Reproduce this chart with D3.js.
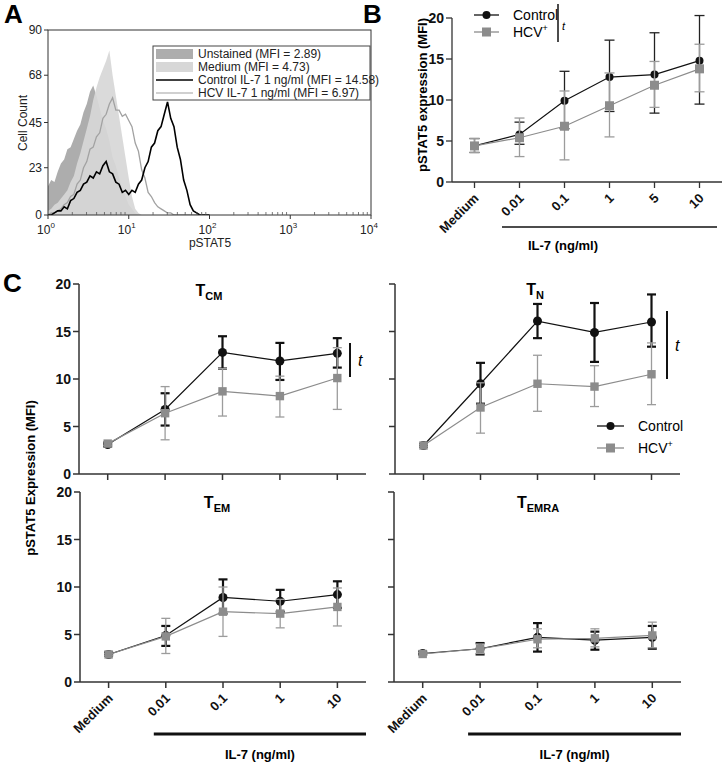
<!DOCTYPE html>
<html>
<head>
<meta charset="utf-8">
<script src="https://cdn.jsdelivr.net/npm/d3@7"></script>
<style>
body { margin: 0; background: #fff; }
svg { font-family: "Liberation Sans", Arial, sans-serif; }
</style>
</head>
<body>
<svg id="fig" width="724" height="762"></svg>
<script>
'use strict';

// ---- panel A: histograms, counts per bin (bins every 0.04 decade from 10^0)
var binLog = d3.range(0, 2.001, 0.04);
var unstainedHist = [14, 17, 16, 21, 25, 27, 32, 33, 37, 41, 44, 50, 54, 60, 63, 58, 52, 46, 42, 36, 28, 24, 18, 13, 9, 5, 3, 1, 0, 0, 0, 0, 0, 0, 0, 0, 0, 0, 0, 0, 0, 0, 0, 0, 0, 0, 0, 0, 0, 0, 0];
var mediumHist = [2, 3, 5, 6, 8, 10, 12, 16, 19, 25, 30, 36, 42, 48, 56, 62, 67, 71, 75, 80, 68, 58, 48, 38, 28, 18, 9, 3, 1, 0, 0, 0, 0, 0, 0, 0, 0, 0, 0, 0, 0, 0, 0, 0, 0, 0, 0, 0, 0, 0, 0];
var controlHist = [0, 0, 1, 2, 2, 4, 3, 7, 8, 11, 12, 15, 16, 19, 18, 21, 20, 24, 26, 21, 20, 16, 15, 11, 12, 10, 12, 11, 15, 17, 23, 26, 33, 35, 41, 43, 49, 55, 47, 43, 33, 27, 17, 12, 5, 2, 1, 0, 0, 0, 0];
var hcvHist = [0, 1, 1, 2, 3, 5, 6, 9, 10, 15, 17, 23, 26, 32, 33, 38, 40, 47, 49, 54, 57, 51, 51, 48, 49, 46, 43, 35, 31, 22, 18, 11, 9, 6, 4, 3, 2, 1, 1, 0, 0, 0, 0, 0, 0, 0, 0, 0, 0, 0, 0];
var histYTicks = [0, 23, 45, 68, 90];
var histXTicks = [0, 1, 2, 3, 4];
var histLegend = ['Unstained (MFI = 2.89)', 'Medium (MFI = 4.73)', 'Control IL-7 1 ng/ml (MFI = 14.58)', 'HCV IL-7 1 ng/ml (MFI = 6.97)'];

// ---- panel B
var doseB = ['Medium', '0.01', '0.1', '1', '5', '10'];
var ctrlB = [4.4, 5.8, 9.9, 12.8, 13.1, 14.8];
var ctrlBLo = [3.6, 4.6, 6.5, 8.6, 8.4, 9.5];
var ctrlBHi = [5.3, 7.3, 13.5, 17.3, 18.2, 20.3];
var hcvB = [4.4, 5.4, 6.8, 9.3, 11.8, 13.8];
var hcvBLo = [3.6, 3.1, 2.7, 5.5, 9.1, 11.0];
var hcvBHi = [5.3, 7.8, 11.1, 13.3, 14.7, 16.8];
var yTicksB = [0, 5, 10, 15, 20];

// ---- panel C
var doseC = ['Medium', '0.01', '0.1', '1', '10'];
var yTicksC = [0, 5, 10, 15, 20];

var tcmCtrl = [3.1, 6.8, 12.8, 11.9, 12.7];
var tcmCtrlLo = [2.9, 5.1, 11.1, 9.9, 11.2];
var tcmCtrlHi = [3.3, 8.5, 14.5, 13.8, 14.3];
var tcmHcv = [3.2, 6.4, 8.7, 8.2, 10.1];
var tcmHcvLo = [3.0, 3.6, 6.1, 6.0, 6.8];
var tcmHcvHi = [3.4, 9.2, 11.1, 10.3, 13.3];

var tnCtrl = [3.0, 9.5, 16.1, 14.9, 16.0];
var tnCtrlLo = [2.9, 7.4, 14.3, 11.8, 13.4];
var tnCtrlHi = [3.1, 11.7, 17.9, 18.0, 18.9];
var tnHcv = [3.0, 7.0, 9.5, 9.2, 10.5];
var tnHcvLo = [2.9, 4.3, 6.6, 7.1, 7.3];
var tnHcvHi = [3.1, 9.6, 12.5, 11.4, 13.8];

var temCtrl = [2.9, 4.9, 8.9, 8.5, 9.2];
var temCtrlLo = [2.8, 3.8, 7.2, 7.4, 7.8];
var temCtrlHi = [3.1, 5.9, 10.8, 9.7, 10.6];
var temHcv = [2.9, 4.8, 7.4, 7.2, 7.9];
var temHcvLo = [2.8, 3.0, 4.8, 5.7, 5.9];
var temHcvHi = [3.0, 6.7, 10.0, 8.7, 9.9];

var temraCtrl = [3.0, 3.5, 4.7, 4.4, 4.7];
var temraCtrlLo = [2.9, 2.9, 3.2, 3.4, 3.5];
var temraCtrlHi = [3.2, 4.1, 6.2, 5.3, 5.9];
var temraHcv = [2.95, 3.5, 4.5, 4.6, 4.9];
var temraHcvLo = [2.8, 3.0, 3.6, 3.7, 3.6];
var temraHcvHi = [3.1, 4.0, 5.6, 5.6, 6.3];

var BLACK = '#111';
var GRAY = '#8c8c8c';
var GRAY_ERR = '#9c9c9c';

var svg = d3.select('#fig');

// panel letters
[['A', 4, 23], ['B', 363, 23], ['C', 3, 292]].forEach(function(d) {
    svg.append('text').attr('x', d[1]).attr('y', d[2])
        .style('font-size', '26px').style('font-weight', 'bold').text(d[0]);
});

// =================== A ===================
var xA = d3.scaleLog().domain([1, 1e4]).range([48, 371]);
var yA = d3.scaleLinear().domain([0, 90]).range([215, 30]);
var gA = svg.append('g');

gA.append('clipPath').attr('id', 'clipA')
    .append('rect').attr('x', 48).attr('y', 30).attr('width', 323).attr('height', 185);

function histRows(arr) {
    return arr.map(function(v, i) { return { x: Math.pow(10, binLog[i]), y: v }; });
}
var areaA = d3.area()
    .x(function(d) { return xA(d.x); }).y0(yA(0)).y1(function(d) { return yA(d.y); });
var lineA = d3.line()
    .x(function(d) { return xA(d.x); }).y(function(d) { return yA(d.y); });

var plotA = gA.append('g').attr('clip-path', 'url(#clipA)');
plotA.append('path').datum(histRows(unstainedHist)).attr('d', areaA).attr('fill', '#adadad');
plotA.append('path').datum(histRows(mediumHist)).attr('d', areaA).attr('fill', '#d7d7d7').attr('fill-opacity', 0.92);
plotA.append('path').datum(histRows(hcvHist)).attr('d', lineA)
    .attr('fill', 'none').attr('stroke', '#a2a2a2').attr('stroke-width', 1.3);
plotA.append('path').datum(histRows(controlHist)).attr('d', lineA)
    .attr('fill', 'none').attr('stroke', '#000').attr('stroke-width', 1.6);

// frame
gA.append('rect').attr('x', 48).attr('y', 30).attr('width', 323).attr('height', 185)
    .attr('fill', 'none').attr('stroke', '#333').attr('stroke-width', 1);

// y ticks
histYTicks.forEach(function(t) {
    gA.append('line').attr('x1', 44).attr('x2', 48).attr('y1', yA(t)).attr('y2', yA(t)).attr('stroke', '#333');
    gA.append('text').attr('x', 42).attr('y', yA(t) + 4).attr('text-anchor', 'end')
        .style('font-size', '12px').attr('fill', '#222').text(t);
});
gA.append('text').attr('transform', 'translate(27,123) rotate(-90)').attr('text-anchor', 'middle')
    .style('font-size', '12px').attr('fill', '#222').text('Cell Count');

// x log ticks
histXTicks.forEach(function(p) {
    var v = Math.pow(10, p);
    gA.append('line').attr('x1', xA(v)).attr('x2', xA(v)).attr('y1', 215).attr('y2', 219).attr('stroke', '#333');
    if (p < 4) {
        for (var m = 2; m < 10; m++) {
            gA.append('line').attr('x1', xA(m * v)).attr('x2', xA(m * v))
                .attr('y1', 215).attr('y2', 212).attr('stroke', '#555').attr('stroke-width', 0.8);
        }
    }
    var t = gA.append('text').attr('x', xA(v) - 2).attr('y', 234).attr('text-anchor', 'middle')
        .style('font-size', '12px').attr('fill', '#222');
    t.append('tspan').text('10');
    t.append('tspan').attr('dy', -6).style('font-size', '8px').text(p);
});
gA.append('text').attr('x', 210).attr('y', 247).attr('text-anchor', 'middle')
    .style('font-size', '12px').attr('fill', '#222').text('pSTAT5');

// legend
var legA = gA.append('g');
legA.append('rect').attr('x', 153).attr('y', 46).attr('width', 217).attr('height', 54)
    .attr('fill', '#fff').attr('stroke', '#444').attr('stroke-width', 1);
histLegend.forEach(function(label, i) {
    var y = 54 + i * 13;
    if (i === 0 || i === 1) {
        legA.append('rect').attr('x', 156).attr('y', y - 5).attr('width', 37).attr('height', 10)
            .attr('fill', i === 0 ? '#adadad' : '#d7d7d7');
    } else {
        legA.append('line').attr('x1', 156).attr('x2', 193).attr('y1', y).attr('y2', y)
            .attr('stroke', i === 2 ? '#000' : '#a2a2a2').attr('stroke-width', i === 2 ? 1.5 : 1.2);
    }
    legA.append('text').attr('x', 198).attr('y', y + 4).style('font-size', '12px')
        .attr('fill', '#222').text(label);
});

// =================== shared line-chart drawing ===================
function drawSeries(g, x, y, cats, vals, lo, hi, opt) {
    var pts = cats.map(function(c, i) { return { c: c, v: vals[i], lo: lo[i], hi: hi[i] }; });
    g.append('path').datum(pts)
        .attr('d', d3.line().x(function(d) { return x(d.c); }).y(function(d) { return y(d.v); }))
        .attr('fill', 'none').attr('stroke', opt.line).attr('stroke-width', 1.2);
    var eb = g.append('g').attr('stroke', opt.err).attr('stroke-width', opt.errW);
    pts.forEach(function(d) {
        var cx = x(d.c);
        eb.append('line').attr('x1', cx).attr('x2', cx).attr('y1', y(d.lo)).attr('y2', y(d.hi));
        eb.append('line').attr('x1', cx - opt.cap).attr('x2', cx + opt.cap).attr('y1', y(d.lo)).attr('y2', y(d.lo));
        eb.append('line').attr('x1', cx - opt.cap).attr('x2', cx + opt.cap).attr('y1', y(d.hi)).attr('y2', y(d.hi));
    });
    if (opt.shape === 'circle') {
        g.selectAll(null).data(pts).enter().append('circle')
            .attr('cx', function(d) { return x(d.c); })
            .attr('cy', function(d) { return y(d.v); })
            .attr('r', opt.size).attr('fill', opt.fill);
    } else {
        g.selectAll(null).data(pts).enter().append('rect')
            .attr('x', function(d) { return x(d.c) - opt.size; })
            .attr('y', function(d) { return y(d.v) - opt.size; })
            .attr('width', opt.size * 2).attr('height', opt.size * 2).attr('fill', opt.fill);
    }
}

function drawAxes(g, x, y, x0, x1, yBase, ticks, showYLabels, showXLabels, axisW) {
    g.append('line').attr('x1', x0).attr('x2', x0).attr('y1', y(20)).attr('y2', yBase)
        .attr('stroke', '#333').attr('stroke-width', axisW);
    g.append('line').attr('x1', x0).attr('x2', x1).attr('y1', yBase).attr('y2', yBase)
        .attr('stroke', '#333').attr('stroke-width', axisW);
    ticks.forEach(function(t) {
        g.append('line').attr('x1', x0 - 6).attr('x2', x0).attr('y1', y(t)).attr('y2', y(t))
            .attr('stroke', '#333').attr('stroke-width', axisW);
        if (showYLabels) {
            g.append('text').attr('x', x0 - 8).attr('y', y(t) + 5).attr('text-anchor', 'end')
                .style('font-size', '14px').style('font-weight', 'bold').attr('fill', '#111').text(t);
        }
    });
    x.domain().forEach(function(c) {
        g.append('line').attr('x1', x(c)).attr('x2', x(c)).attr('y1', yBase).attr('y2', yBase + 6)
            .attr('stroke', '#333').attr('stroke-width', axisW);
        if (showXLabels) {
            g.append('text').attr('transform', 'translate(' + (x(c) + 5) + ',' + (yBase + 17) + ') rotate(-45)')
                .attr('text-anchor', 'end').style('font-size', '13px').style('font-weight', 'bold')
                .attr('fill', '#111').text(c);
        }
    });
}

// =================== B ===================
var gB = svg.append('g');
var xB = d3.scalePoint().domain(doseB).range([452, 722]).padding(0.5);
var yB = d3.scaleLinear().domain([0, 20]).range([182, 18]);
drawAxes(gB, xB, yB, 452, 722, 182, yTicksB, true, true, 1.3);
drawSeries(gB, xB, yB, doseB, ctrlB, ctrlBLo, ctrlBHi,
    { line: BLACK, err: '#222', errW: 1.3, cap: 5, shape: 'circle', size: 4, fill: BLACK });
drawSeries(gB, xB, yB, doseB, hcvB, hcvBLo, hcvBHi,
    { line: GRAY, err: GRAY_ERR, errW: 1.3, cap: 5, shape: 'square', size: 4.5, fill: GRAY });
gB.append('text').attr('transform', 'translate(427,95) rotate(-90)').attr('text-anchor', 'middle')
    .style('font-size', '13px').style('font-weight', 'bold').text('pSTAT5 expression (MFI)');
gB.append('line').attr('x1', 502).attr('x2', 717).attr('y1', 227).attr('y2', 227)
    .attr('stroke', '#111').attr('stroke-width', 1.5);
gB.append('text').attr('x', 563).attr('y', 250).attr('text-anchor', 'middle')
    .style('font-size', '13px').style('font-weight', 'bold').text('IL-7 (ng/ml)');

// legend B
function legendRows(g, xL, yL, dy, lw, fs) {
    g.append('line').attr('x1', xL).attr('x2', xL + lw).attr('y1', yL).attr('y2', yL).attr('stroke', BLACK).attr('stroke-width', 1.3);
    g.append('circle').attr('cx', xL + lw / 2).attr('cy', yL).attr('r', 4).attr('fill', BLACK);
    g.append('line').attr('x1', xL).attr('x2', xL + lw).attr('y1', yL + dy).attr('y2', yL + dy).attr('stroke', GRAY).attr('stroke-width', 1.3);
    g.append('rect').attr('x', xL + lw / 2 - 4.5).attr('y', yL + dy - 4.5).attr('width', 9).attr('height', 9).attr('fill', GRAY);
    g.append('text').attr('x', xL + lw + 14).attr('y', yL + 5).style('font-size', fs + 'px').text('Control');
    var h = g.append('text').attr('x', xL + lw + 14).attr('y', yL + dy + 5).style('font-size', fs + 'px');
    h.append('tspan').text('HCV');
    h.append('tspan').attr('dy', -6).style('font-size', (fs - 5) + 'px').text('+');
}
legendRows(gB, 474, 15, 17, 25, 14);
gB.append('line').attr('x1', 558).attr('x2', 558).attr('y1', 4).attr('y2', 42).attr('stroke', '#111').attr('stroke-width', 1.5);
gB.append('text').attr('x', 562).attr('y', 30).style('font-size', '11px').style('font-style', 'italic').text('t');

// =================== C ===================
var panelsC = [
    { sub: 'CM', ctrl: tcmCtrl, ctrlLo: tcmCtrlLo, ctrlHi: tcmCtrlHi, hcv: tcmHcv, hcvLo: tcmHcvLo, hcvHi: tcmHcvHi,
      x0: 79, x1: 366, base: 474, titleX: 209, titleY: 296, yLab: true, xLab: false, sig: [350, 343, 377] },
    { sub: 'N', ctrl: tnCtrl, ctrlLo: tnCtrlLo, ctrlHi: tnCtrlHi, hcv: tnHcv, hcvLo: tnHcvLo, hcvHi: tnHcvHi,
      x0: 395, x1: 680, base: 474, titleX: 535, titleY: 295, yLab: false, xLab: false, sig: [667, 311, 379], legend: true },
    { sub: 'EM', ctrl: temCtrl, ctrlLo: temCtrlLo, ctrlHi: temCtrlHi, hcv: temHcv, hcvLo: temHcvLo, hcvHi: temHcvHi,
      x0: 80, x1: 366, base: 682, titleX: 217, titleY: 508, yLab: true, xLab: true },
    { sub: 'EMRA', ctrl: temraCtrl, ctrlLo: temraCtrlLo, ctrlHi: temraCtrlHi, hcv: temraHcv, hcvLo: temraHcvLo, hcvHi: temraHcvHi,
      x0: 394, x1: 681, base: 682, titleX: 538, titleY: 508, yLab: false, xLab: true }
];

panelsC.forEach(function(p) {
    var g = svg.append('g');
    var x = d3.scalePoint().domain(doseC).range([p.x0, p.x1]).padding(0.5);
    var y = d3.scaleLinear().domain([0, 20]).range([p.base, p.base - 190]);
    drawAxes(g, x, y, p.x0, p.x1, p.base, yTicksC, p.yLab, p.xLab, 1.5);
    drawSeries(g, x, y, doseC, p.ctrl, p.ctrlLo, p.ctrlHi,
        { line: BLACK, err: '#111', errW: 2.2, cap: 4.5, shape: 'circle', size: 4.5, fill: BLACK });
    drawSeries(g, x, y, doseC, p.hcv, p.hcvLo, p.hcvHi,
        { line: GRAY, err: GRAY_ERR, errW: 1.3, cap: 4.5, shape: 'square', size: 4.2, fill: GRAY });

    var t = g.append('text').attr('x', p.titleX).attr('y', p.titleY).attr('text-anchor', 'middle')
        .style('font-weight', 'bold');
    t.append('tspan').style('font-size', '16px').text('T');
    t.append('tspan').attr('dy', 4).style('font-size', '11px').text(p.sub);

    if (p.sig) {
        g.append('line').attr('x1', p.sig[0]).attr('x2', p.sig[0]).attr('y1', p.sig[1]).attr('y2', p.sig[2])
            .attr('stroke', '#111').attr('stroke-width', 2);
        g.append('text').attr('x', p.sig[0] + 8).attr('y', (p.sig[1] + p.sig[2]) / 2 + 6)
            .style('font-size', '16px').style('font-style', 'italic').text('t');
    }
    if (p.legend) legendRows(g, 597, 426, 22, 27, 14);
    if (p.xLab) {
        g.append('line').attr('x1', x('0.01') - 12).attr('x2', p.x1).attr('y1', 734).attr('y2', 734)
            .attr('stroke', '#111').attr('stroke-width', 3);
        g.append('text').attr('x', (x('0.01') - 12 + p.x1) / 2).attr('y', 759).attr('text-anchor', 'middle')
            .style('font-size', '13px').style('font-weight', 'bold').text('IL-7 (ng/ml)');
    }
});

svg.append('text').attr('transform', 'translate(35,478) rotate(-90)').attr('text-anchor', 'middle')
    .style('font-size', '13px').style('font-weight', 'bold').text('pSTAT5 Expression (MFI)');
</script>
</body>
</html>
